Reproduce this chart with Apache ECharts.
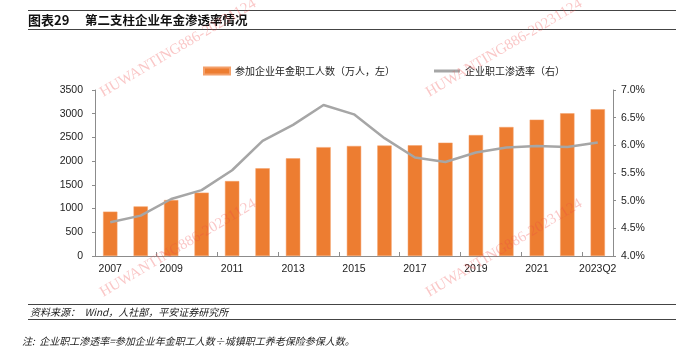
<!DOCTYPE html>
<html><head><meta charset="utf-8">
<script src="https://cdn.jsdelivr.net/npm/echarts@6/dist/echarts.min.js"></script>
<style>html,body{margin:0;padding:0;background:#fff}#c{width:700px;height:364px}</style>
</head><body><div id="c"></div>
<script>
const categories = ['2007','2008','2009','2010','2011','2012','2013','2014','2015','2016','2017','2018','2019','2020','2021','2022','2023Q2'];
const participants = [935,1045,1180,1335,1580,1850,2060,2295,2320,2330,2335,2390,2550,2720,2875,3010,3095];
const penetration = [4.61,4.73,5.03,5.19,5.55,6.08,6.37,6.73,6.56,6.13,5.78,5.70,5.87,5.96,5.99,5.97,6.05];
const leftTicks = {min:0,max:3500,interval:500};
const rightTicks = {min:4.0,max:7.0,interval:0.5};
const barName = '参加企业年金职工人数（万人，左）';
const lineName = '企业职工渗透率（右）';
const titleLabel = '图表29';
const titleText = '第二支柱企业年金渗透率情况';
const sourceText = '资料来源：  Wind，人社部，平安证券研究所';
const noteText = '注:  企业职工渗透率=参加企业年金职工人数÷城镇职工养老保险参保人数。';
const watermark = 'HUWANTING886-20231124';

const FONT = '"Liberation Sans", Arial, "Noto Sans CJK SC", sans-serif';
const CJK = '"Noto Sans CJK SC", "Liberation Sans", sans-serif';
const chart = echarts.init(document.getElementById('c'), null, {renderer:'canvas'});
const axisColor = '#8c8c8c';
const wmPos = [[105,100],[431,100],[105,300],[431,300]];
const graphics = [
  {type:'line', shape:{x1:28,y1:10.5,x2:676,y2:10.5}, style:{stroke:'#444',lineWidth:1}},
  {type:'line', shape:{x1:28,y1:29.5,x2:676,y2:29.5}, style:{stroke:'#444',lineWidth:1}},
  {type:'text', x:28, y:20.5, style:{text:titleLabel, font:'bold 13px '+CJK, fill:'#111', verticalAlign:'middle'}},
  {type:'text', x:85, y:20.5, style:{text:titleText, font:'bold 12.5px '+CJK, fill:'#111', verticalAlign:'middle'}},
  {type:'line', shape:{x1:28,y1:304.5,x2:676,y2:304.5}, style:{stroke:'#444',lineWidth:1}},
  {type:'line', shape:{x1:28,y1:319.5,x2:676,y2:319.5}, style:{stroke:'#444',lineWidth:1}},
  {type:'text', x:30, y:312.5, style:{text:sourceText, font:'italic 10px '+CJK, fill:'#222', verticalAlign:'middle'}},
  {type:'text', x:22, y:341, style:{text:noteText, font:'italic 10px '+CJK, fill:'#222', verticalAlign:'middle'}}
];
wmPos.forEach(p=>graphics.push({type:'text', x:p[0], y:p[1], rotation:0.534, z:100,
  style:{text:watermark, font:'15px "Liberation Serif", serif', fill:'rgba(240,70,70,0.3)', verticalAlign:'bottom'}}));

chart.setOption({
  animation:false,
  textStyle:{fontFamily:FONT},
  grid:{left:95,right:87,top:90,bottom:108,containLabel:false},
  legend:{top:61, left:198, itemGap:39, itemWidth:26, itemHeight:7,
    textStyle:{fontSize:10, color:'#222', fontFamily:CJK},
    data:[{name:barName, icon:'rect'},
          {name:lineName, icon:'path://M0,0 L26,0 L26,3 L0,3 Z', itemStyle:{color:'#A6A6A6'}}]},
  xAxis:{type:'category', data:categories, boundaryGap:true,
    axisLine:{lineStyle:{color:axisColor}},
    axisTick:{show:true, inside:true, length:4, lineStyle:{color:axisColor}},
    axisLabel:{interval:1, color:'#222', fontSize:10.5, margin:8}},
  yAxis:[
    {type:'value', min:leftTicks.min, max:leftTicks.max, interval:leftTicks.interval,
      splitLine:{show:false}, axisLine:{show:true,lineStyle:{color:axisColor}},
      axisTick:{show:true,length:3,lineStyle:{color:axisColor}},
      axisLabel:{color:'#222', fontSize:10.5, margin:12, formatter:v=>String(v)}},
    {type:'value', min:rightTicks.min, max:rightTicks.max, interval:rightTicks.interval,
      splitLine:{show:false}, axisLine:{show:true,lineStyle:{color:axisColor}},
      axisTick:{show:true,length:3,lineStyle:{color:axisColor}},
      axisLabel:{color:'#222', fontSize:10.5, margin:8, formatter:v=>v.toFixed(1)+'%'}}
  ],
  series:[
    {name:barName, type:'bar', data:participants, barWidth:'47%', yAxisIndex:0,
      itemStyle:{color:'#ED7D31', borderColor:'#F4A06A', borderWidth:0.5}},
    {name:lineName, type:'line', data:penetration, yAxisIndex:1, symbol:'none', smooth:false,
      lineStyle:{color:'#A6A6A6', width:2.5}, itemStyle:{color:'#A6A6A6'}}
  ],
  graphic:graphics
});
</script></body></html>
